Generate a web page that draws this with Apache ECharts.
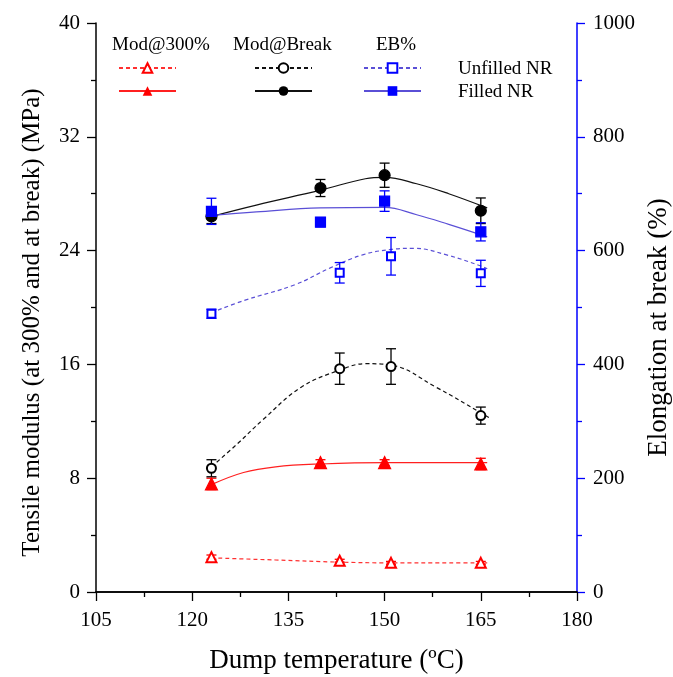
<!DOCTYPE html>
<html>
<head>
<meta charset="utf-8">
<script src="https://cdn.jsdelivr.net/npm/echarts@6/dist/echarts.min.js"></script>
<style>
  html, body { margin: 0; padding: 0; background: #fff; }
  #main { width: 673px; height: 677px; }
</style>
</head>
<body>
<div id="main"></div>
<script>
// measured points
var tempFilled = [123, 140, 150, 165];
var tempUnfilled = [123, 143, 151, 165];

var mod300Filled = [7.6, 9.1, 9.1, 9.0];
var mod300FilledErr = [0.4, 0.2, 0.2, 0.4];
var mod300Unfilled = [2.45, 2.2, 2.05, 2.05];
var mod300UnfilledErr = [0.15, 0.1, 0.1, 0.1];

var modBreakFilled = [26.4, 28.4, 29.3, 26.8];
var modBreakFilledErr = [0.5, 0.6, 0.85, 0.9];
var modBreakUnfilled = [8.7, 15.7, 15.85, 12.4];
var modBreakUnfilledErr = [0.6, 1.1, 1.25, 0.6];

var ebFilled = [669, 650, 687, 633];
var ebFilledErr = [23, 8, 18, 16];
var ebUnfilled = [489, 561, 590, 560];
var ebUnfilledErr = [8, 18, 33, 23];

// fitted curves
var fitMod300FilledX = [123, 128, 133, 140, 150, 160, 166];
var fitMod300FilledY = [7.55, 8.4, 8.8, 9.0, 9.1, 9.1, 9.1];
var fitMod300UnfilledX = [123, 133, 143, 151, 160, 166];
var fitMod300UnfilledY = [2.4, 2.25, 2.1, 2.05, 2.05, 2.05];
var fitBreakFilledX = [123, 130, 140, 147, 150, 155, 160, 166];
var fitBreakFilledY = [26.4, 27.2, 28.25, 29.05, 29.15, 28.7, 28.0, 27.0];
var fitBreakUnfilledX = [123, 127, 131, 137, 143, 147, 151, 158, 165, 166.5];
var fitBreakUnfilledY = [8.8, 10.4, 12.1, 14.4, 15.6, 16.05, 15.95, 14.4, 12.6, 12.2];
var fitEbFilledX = [123, 130, 140, 150, 155, 160, 166];
var fitEbFilledY = [662, 668, 675, 676, 663, 646, 624];
var fitEbUnfilledX = [123, 128, 136, 141.6, 146.7, 151, 154.6, 159.8, 165, 166];
var fitEbUnfilledY = [491, 512, 540, 570, 593, 602, 604, 592, 573, 568];

var FONT = '"Liberation Serif", "DejaVu Serif", serif';
var RED = '#ff0000', BLACK = '#000000', BLUE = '#0000ff';
var BLUE_LINE = '#5a4fd6';

function zip(xs, ys) {
    var out = [];
    for (var i = 0; i < xs.length; i++) out.push([xs[i], ys[i]]);
    return out;
}
function errData(xs, ys, es) {
    var out = [];
    for (var i = 0; i < xs.length; i++) out.push([xs[i], ys[i] - es[i], ys[i] + es[i]]);
    return out;
}
function renderErr(params, api) {
    var x = api.value(0);
    var lo = api.coord([x, api.value(1)]);
    var hi = api.coord([x, api.value(2)]);
    var w = 5;
    var st = { stroke: api.visual('color'), lineWidth: 1.3, fill: null };
    return {
        type: 'group',
        children: [
            { type: 'line', shape: { x1: lo[0], y1: lo[1], x2: hi[0], y2: hi[1] }, style: st },
            { type: 'line', shape: { x1: lo[0] - w, y1: lo[1], x2: lo[0] + w, y2: lo[1] }, style: st },
            { type: 'line', shape: { x1: hi[0] - w, y1: hi[1], x2: hi[0] + w, y2: hi[1] }, style: st }
        ]
    };
}
function errSeries(xs, ys, es, color, yIdx) {
    return {
        type: 'custom', yAxisIndex: yIdx, silent: true, z: 3,
        itemStyle: { color: color },
        encode: { x: 0, y: [1, 2] },
        renderItem: renderErr,
        data: errData(xs, ys, es)
    };
}
function pointSeries(xs, ys, color, symbol, size, yIdx) {
    return {
        type: 'scatter', yAxisIndex: yIdx, z: 4, silent: true,
        symbol: symbol, symbolSize: size,
        itemStyle: { color: color, borderColor: color, borderWidth: 1.2, opacity: 1 },
        data: zip(xs, ys)
    };
}
function fitSeries(name, xs, ys, color, lineColor, dashed, symbol, yIdx) {
    return {
        name: name, type: 'line', yAxisIndex: yIdx, z: 2, silent: true,
        smooth: 0.4, showSymbol: false, symbol: symbol,
        itemStyle: { color: color },
        lineStyle: { color: lineColor, width: 1.2, type: dashed ? [4, 3] : 'solid' },
        data: zip(xs, ys)
    };
}
function legendAt(name, left, top) {
    return {
        data: [name], left: left, top: top, padding: 0,
        itemWidth: 57, itemHeight: 12, selectedMode: false,
        formatter: function () { return ''; },
        textStyle: { fontSize: 1 }
    };
}

var chart = echarts.init(document.getElementById('main'));
var option = {
    animation: false,
    grid: { left: 96, right: 96, top: 23, bottom: 85, outerBoundsMode: 'none', containLabel: false },
    legend: [
        legendAt('m300u', 118, 62), legendAt('mbu', 254, 62), legendAt('ebu', 363, 62),
        legendAt('m300f', 118, 85), legendAt('mbf', 254, 85), legendAt('ebf', 363, 85)
    ],
    graphic: [
        { type: 'text', left: 112, top: 36, style: { text: 'Mod@300%', font: '19px ' + FONT, fill: '#000' } },
        { type: 'text', left: 233, top: 36, style: { text: 'Mod@Break', font: '19px ' + FONT, fill: '#000' } },
        { type: 'text', left: 376, top: 36, style: { text: 'EB%', font: '19px ' + FONT, fill: '#000' } },
        { type: 'text', left: 458, top: 60, style: { text: 'Unfilled NR', font: '19px ' + FONT, fill: '#000' } },
        { type: 'text', left: 458, top: 83, style: { text: 'Filled NR', font: '19px ' + FONT, fill: '#000' } }
    ],
    xAxis: [{
        type: 'value', min: 105, max: 180, interval: 15,
        name: 'Dump temperature (\u00baC)', nameLocation: 'middle', nameGap: 55,
        nameTextStyle: { fontFamily: FONT, fontSize: 27, color: '#000' },
        axisLine: { lineStyle: { color: '#000', width: 1.5 } },
        axisTick: { length: 9, lineStyle: { color: '#000', width: 1.3 } },
        minorTick: { show: true, splitNumber: 2, length: 5, lineStyle: { color: '#000', width: 1.3 } },
        axisLabel: { margin: 18, fontFamily: FONT, fontSize: 21, color: '#000' },
        splitLine: { show: false }
    }, {
        type: 'value', min: 105, max: 180, position: 'top',
        axisLine: { show: true, lineStyle: { color: '#000', width: 1.5 } },
        axisTick: { show: false }, axisLabel: { show: false }, splitLine: { show: false }
    }],
    yAxis: [{
        type: 'value', min: 0, max: 40, interval: 8,
        name: 'Tensile modulus (at 300% and at break) (MPa)', nameLocation: 'middle', nameGap: 51,
        nameTextStyle: { fontFamily: FONT, fontSize: 25, color: '#000', padding: [0, 30, 0, 0] },
        axisLine: { show: true, lineStyle: { color: '#000', width: 1.5 } },
        axisTick: { length: 9, lineStyle: { color: '#000', width: 1.3 } },
        minorTick: { show: true, splitNumber: 2, length: 5, lineStyle: { color: '#000', width: 1.3 } },
        axisLabel: { margin: 16, fontFamily: FONT, fontSize: 21, color: '#000' },
        splitLine: { show: false }
    }, {
        type: 'value', min: 0, max: 1000, interval: 200, position: 'right',
        name: 'Elongation at break (%)', nameLocation: 'middle', nameGap: 68, nameRotate: 90,
        nameTextStyle: { fontFamily: FONT, fontSize: 27, color: '#000', padding: [0, 40, 0, 0] },
        axisLine: { show: true, lineStyle: { color: BLUE, width: 1.5 } },
        axisTick: { length: 8, lineStyle: { color: BLUE, width: 1.3 } },
        minorTick: { show: true, splitNumber: 2, length: 5, lineStyle: { color: BLUE, width: 1.3 } },
        axisLabel: { margin: 16, fontFamily: FONT, fontSize: 21, color: '#000', formatter: function (v) { return String(v); } },
        splitLine: { show: false }
    }],
    series: [
        fitSeries('m300u', fitMod300UnfilledX, fitMod300UnfilledY, RED, '#ff3030', true, 'emptyTriangle', 0),
        fitSeries('m300f', fitMod300FilledX, fitMod300FilledY, RED, '#ff2020', false, 'triangle', 0),
        fitSeries('mbu', fitBreakUnfilledX, fitBreakUnfilledY, BLACK, '#111', true, 'emptyCircle', 0),
        fitSeries('mbf', fitBreakFilledX, fitBreakFilledY, BLACK, '#111', false, 'circle', 0),
        fitSeries('ebu', fitEbUnfilledX, fitEbUnfilledY, BLUE, BLUE_LINE, true, 'emptyRect', 1),
        fitSeries('ebf', fitEbFilledX, fitEbFilledY, BLUE, BLUE_LINE, false, 'rect', 1),

        errSeries(tempUnfilled, mod300Unfilled, mod300UnfilledErr, RED, 0),
        errSeries(tempFilled, mod300Filled, mod300FilledErr, RED, 0),
        errSeries(tempUnfilled, modBreakUnfilled, modBreakUnfilledErr, BLACK, 0),
        errSeries(tempFilled, modBreakFilled, modBreakFilledErr, BLACK, 0),
        errSeries(tempUnfilled, ebUnfilled, ebUnfilledErr, BLUE, 1),
        errSeries(tempFilled, ebFilled, ebFilledErr, BLUE, 1),

        pointSeries(tempUnfilled, mod300Unfilled, RED, 'emptyTriangle', 10, 0),
        pointSeries(tempFilled, mod300Filled, RED, 'triangle', 12, 0),
        pointSeries(tempUnfilled, modBreakUnfilled, BLACK, 'emptyCircle', 9, 0),
        pointSeries(tempFilled, modBreakFilled, BLACK, 'circle', 11, 0),
        pointSeries(tempUnfilled, ebUnfilled, BLUE, 'emptyRect', 8, 1),
        pointSeries(tempFilled, ebFilled, BLUE, 'rect', 10, 1)
    ]
};
chart.setOption(option);
</script>
</body>
</html>
